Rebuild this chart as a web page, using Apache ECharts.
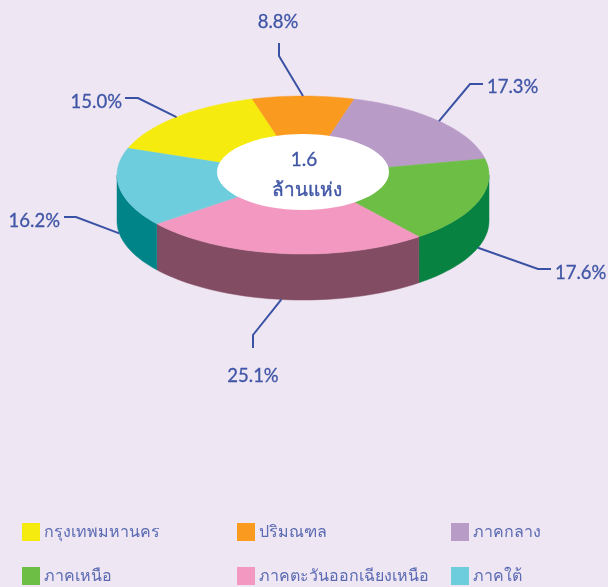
<!DOCTYPE html>
<html>
<head>
<meta charset="utf-8">
<script src="https://cdn.jsdelivr.net/npm/echarts@6/dist/echarts.min.js"></script>
<style>html,body{margin:0;padding:0;background:#EFE6F4}#c{width:608px;height:587px}</style>
</head>
<body>
<div id="c"></div>
<script>
// Data
var categories = ['ปริมณฑล','ภาคกลาง','ภาคเหนือ','ภาคตะวันออกเฉียงเหนือ','ภาคใต้','กรุงเทพมหานคร'];
var shares = [8.8,17.3,17.6,25.1,16.2,15.0];
var totalLabel = ['1.6','ล้านแห่ง'];

// Styling
var topColors = ['#FA9B20','#B89BC7','#6CBE45','#F399C1','#6ECDDD','#F6EB0E'];
var sideColors = ['#C87A18','#8E74A0','#088241','#824C63','#008488','#C4BB0A'];
var leaderEnds = [[[279,56],[279,43]],[[470,84],[483,84]],[[538,269],[551,269]],[[253,335],[253,348]],[[76,217],[64,217]],[[138,98],[125,98]]];
var labelPos = [[278,22,'center'],[487,87,'left'],[555,273,'left'],[253,376,'center'],[60,221,'right'],[122,102,'right']];
var legendPos = {'กรุงเทพมหานคร':[22,523],'ปริมณฑล':[237,523],'ภาคกลาง':[451,523],'ภาคเหนือ':[22,567],'ภาคตะวันออกเฉียงเหนือ':[237,567],'ภาคใต้':[451,567]};
var CX=303,CY=175,RX=186,RY=79,DEPTH=46;
var textColor='#3F55A5', FONT='Lato';
var startDeg=-shares[0]/100*180;
var totalShare=shares.reduce(function(a,b){return a+b;},0);

function pt(deg,dy){var r=deg*Math.PI/180;return [CX+RX*Math.sin(r),CY-RY*Math.cos(r)+(dy||0)];}
function arc(a,b,dy){var n=Math.max(2,Math.ceil(Math.abs(b-a)/2)),o=[];for(var i=0;i<=n;i++)o.push(pt(a+(b-a)*i/n,dy));return o;}
function range(i){var s=0;for(var k=0;k<i;k++)s+=shares[k];return [startDeg+s/totalShare*360,startDeg+(s+shares[i])/totalShare*360];}

function renderer(i){
  return function(params,api){
    var v=api.value(0), r=range(i), a=r[0], b=r[1], mid=(a+b)/2, children=[];
    var sa=Math.max(a,90), sb=Math.min(b,270);
    if(sb>sa){
      children.push({type:'polygon',shape:{points:arc(sa,sb,0).concat(arc(sb,sa,DEPTH))},style:{fill:sideColors[i],stroke:sideColors[i],lineWidth:0.5}});
    }
    children.push({type:'polygon',shape:{points:[[CX,CY]].concat(arc(a,b,0))},style:{fill:topColors[i],stroke:topColors[i],lineWidth:0.5}});
    var onWall=mid>90&&mid<270;
    var start=pt(mid,onWall?DEPTH:0);
    children.push({type:'polyline',shape:{points:[start].concat(leaderEnds[i])},style:{fill:null,stroke:'#3A52A4',lineWidth:2}});
    var lp=labelPos[i];
    children.push({type:'text',style:{text:v.toFixed(1)+'%',x:lp[0],y:lp[1],align:lp[2],verticalAlign:'middle',fill:textColor,stroke:textColor,lineWidth:0.3,font:'18.5px '+FONT}});
    return {type:'group',children:children};
  };
}

var series=categories.map(function(name,i){
  return {type:'custom',name:name,coordinateSystem:'none',z:i===0?3:2,silent:true,animation:false,
    itemStyle:{color:topColors[i]},data:[[shares[i]]],renderItem:renderer(i)};
});
series.push({type:'custom',name:'center',coordinateSystem:'none',z:5,silent:true,animation:false,data:[[0]],
  renderItem:function(){return {type:'group',children:[
    {type:'ellipse',shape:{cx:303,cy:172,rx:86,ry:38},style:{fill:'#FFFFFF'}},
    {type:'text',style:{text:totalLabel[0],x:304,y:160,align:'center',verticalAlign:'middle',fill:textColor,stroke:textColor,lineWidth:0.3,font:'19px '+FONT}},
    {type:'text',style:{text:totalLabel[1],x:307,y:190,align:'center',verticalAlign:'middle',fill:textColor,stroke:textColor,lineWidth:0.4,font:'19px '+FONT}}
  ]};}});

var legends=Object.keys(legendPos).map(function(n){
  return {data:[n],left:legendPos[n][0],top:legendPos[n][1],orient:'horizontal',padding:0,itemWidth:18,itemHeight:18,itemGap:0,
    icon:'rect',selectedMode:false,textStyle:{color:'#5A6BB2',fontSize:16,fontFamily:FONT,padding:[0,0,0,-1]}};
});

var chart=echarts.init(document.getElementById('c'),null,{renderer:'canvas'});
chart.setOption({backgroundColor:'#EFE6F4',animation:false,legend:legends,series:series});
</script>
</body>
</html>
